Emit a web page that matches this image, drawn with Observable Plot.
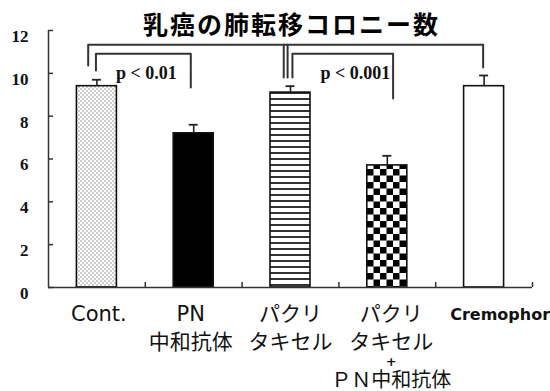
<!DOCTYPE html>
<html>
<head>
<meta charset="utf-8">
<script src="https://cdn.jsdelivr.net/npm/d3@7"></script>
<script src="https://cdn.jsdelivr.net/npm/@observablehq/plot@0.6"></script>
<style>
  html, body { margin: 0; padding: 0; background: #fff; }
  #chart svg { display: block; }
</style>
</head>
<body>
<div id="chart"></div>
<script>
// Lung metastasis colony counts per treatment group (mean ± SEM)
const title = "乳癌の肺転移コロニー数";
const categories = ["Cont.", "PN中和抗体", "パクリタキセル", "パクリタキセル+PN中和抗体", "Cremophor"];
const tickLines = [
  ["Cont."],
  ["PN", "中和抗体"],
  ["パクリ", "タキセル"],
  ["パクリ", "タキセル", "+", "ＰＮ中和抗体"],
  ["Cremophor"]
];
const means = [9.4, 7.2, 9.1, 5.7, 9.4];
const sems = [0.3, 0.4, 0.3, 0.45, 0.5];
const yTicks = [0, 2, 4, 6, 8, 10, 12];
const pLabels = ["p < 0.01", "p < 0.001"];

// bar fills, one pattern per group
const fills = ["url(#dots)", "#000", "url(#stripes)", "url(#checker)", "#fff"];

const rows = categories.map((c, i) => ({i, category: c, mean: means[i], sem: sems[i]}));
const xDomain = [-0.5, categories.length - 0.5];
const boundaries = categories.map((_, i) => i + 0.5);

// significance brackets (x in group index units, y in colony counts)
const brackets = [
  [[-0.09, 10.36], [-0.09, 11.34], [3.99, 11.34], [3.99, 10.27]],
  [[-0.01, 10.13], [-0.01, 10.92], [0.97, 10.92], [0.97, 9.34]],
  [[1.93, 9.8], [1.93, 11.34]],
  [[1.97, 9.8], [1.97, 11.34]],
  [[2.02, 9.8], [2.02, 10.92], [3.06, 10.92], [3.06, 8.82]]
];
const bracketPoints = brackets.flatMap((path, id) => path.map(([x, y]) => ({id, x, y})));
const pPositions = [[0.51, 10.0], [2.67, 10.02]];
const pRows = pLabels.map((text, k) => ({text, x: pPositions[k][0], y: pPositions[k][1]}));

// category label lines, vertical offset per line below the baseline
const lineDy = [27, 55, 74, 93];
const labelShift = [2, -3, 0, 4, 16];
const labelRows = tickLines.flatMap((lines, i) => lines.map((text, k) => ({i, k, text})));

const ink = "#222";

const marks = [
  // bars
  ...rows.map((d, i) => Plot.rectY([d], {
    x1: "i", x2: "i", y1: 0, y2: "mean",
    insetLeft: -20, insetRight: -20,
    fill: fills[i], stroke: "#111", strokeWidth: 1.6
  })),
  // error bars
  Plot.ruleX(rows, {x: "i", y1: "mean", y2: d => d.mean + d.sem, stroke: ink, strokeWidth: 1.6}),
  Plot.ruleY(rows, {y: d => d.mean + d.sem, x1: "i", x2: "i", insetLeft: -4.5, insetRight: -4.5, stroke: ink, strokeWidth: 1.8}),
  // axis lines
  Plot.ruleX([xDomain[0]], {stroke: "#333", strokeWidth: 1.5}),
  Plot.ruleY([0], {stroke: "#333", strokeWidth: 1.5}),
  // inward y ticks
  Plot.ruleY(yTicks, {x1: xDomain[0], x2: xDomain[0], insetRight: -5, stroke: "#333", strokeWidth: 1.5}),
  // upward ticks at group boundaries
  Plot.ruleX(boundaries, {y1: 0, y2: 0, insetTop: -5, stroke: "#333", strokeWidth: 1.5}),
  // y tick labels
  Plot.text(yTicks, {
    x: xDomain[0], y: d => d, text: d => String(d),
    textAnchor: "end", lineAnchor: "middle", dx: -20, dy: 6,
    fontFamily: "Liberation Serif", fontWeight: "bold", fontSize: 17, fill: "#111"
  }),
  // significance brackets
  Plot.line(bracketPoints, {x: "x", y: "y", z: "id", stroke: "#333", strokeWidth: 2}),
  Plot.text(pRows, {
    x: "x", y: "y", text: "text", lineAnchor: "middle",
    fontFamily: "Liberation Serif", fontWeight: "bold", fontSize: 18, fill: "#111"
  }),
  // title
  Plot.text([title], {
    frameAnchor: "top", dy: -5, dx: 1, lineAnchor: "middle",
    fontFamily: "Noto Sans CJK JP", fontWeight: "bold", fontSize: 25, fill: "#000",
    className: "chart-title"
  })
];

// category labels: one mark per line slot so each slot gets its own offset
lineDy.forEach((dy, k) => {
  labelRows.filter(d => d.k === k).forEach(line => {
    const plus = line.text === "+";
    const bold = line.text === "Cremophor";
    marks.push(Plot.text([line], {
      x: "i", y: 0, text: "text", lineAnchor: "middle",
      dy, dx: labelShift[line.i],
      fontFamily: bold ? "DejaVu Sans" : "DejaVu Sans, Noto Sans CJK JP",
      fontWeight: plus || bold ? "bold" : "normal",
      fontSize: plus ? 13 : bold ? 16 : (line.text === "ＰＮ中和抗体" ? 20 : 21),
      fill: "#111"
    }));
  });
});

const svg = Plot.plot({
  width: 550,
  height: 391,
  marginLeft: 48,
  marginRight: 18,
  marginTop: 30,
  marginBottom: 104,
  x: {type: "linear", domain: xDomain, axis: null},
  y: {domain: [0, 12], axis: null},
  style: {background: "#fff", overflow: "visible"},
  marks
});

d3.select(svg).selectAll(".chart-title text").style("letter-spacing", "2px");

// fill patterns used by the bars
const defs = d3.select(svg).insert("defs", ":first-child");
const dots = defs.append("pattern").attr("id", "dots").attr("patternUnits", "userSpaceOnUse")
  .attr("width", 4).attr("height", 4);
dots.append("rect").attr("width", 4).attr("height", 4).attr("fill", "#fdfdfd");
dots.append("circle").attr("cx", 1).attr("cy", 1).attr("r", 0.65).attr("fill", "#777");
dots.append("circle").attr("cx", 3).attr("cy", 3).attr("r", 0.65).attr("fill", "#777");

const stripes = defs.append("pattern").attr("id", "stripes").attr("patternUnits", "userSpaceOnUse")
  .attr("width", 6).attr("height", 6);
stripes.append("rect").attr("width", 6).attr("height", 6).attr("fill", "#fff");
stripes.append("rect").attr("y", 2).attr("width", 6).attr("height", 2).attr("fill", "#333");

const checker = defs.append("pattern").attr("id", "checker").attr("patternUnits", "userSpaceOnUse")
  .attr("x", 367).attr("y", 0).attr("width", 13).attr("height", 13);
checker.append("rect").attr("width", 13).attr("height", 13).attr("fill", "#fff");
checker.append("rect").attr("width", 6.5).attr("height", 6.5).attr("fill", "#000");
checker.append("rect").attr("x", 6.5).attr("y", 6.5).attr("width", 6.5).attr("height", 6.5).attr("fill", "#000");

document.getElementById("chart").append(svg);
</script>
</body>
</html>
